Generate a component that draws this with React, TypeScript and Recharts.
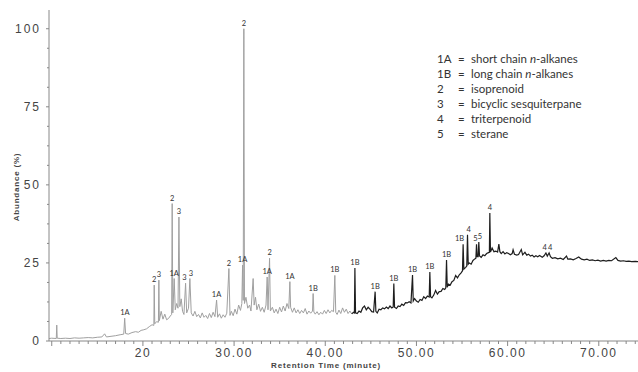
import { ComposedChart, Line, Scatter, XAxis, YAxis } from "recharts";

// retention time (min), abundance (%)
const grayTrace: [number, number][] = [
  [9.7, 0.8], [10.0, 0.9], [10.5, 0.8], [10.55, 5.1], [10.6, 0.9], [11.0, 0.8], [11.5, 0.9],
  [12.0, 0.8], [12.5, 1.0], [13.0, 0.9], [13.5, 1.0], [14.0, 1.1], [14.5, 1.0], [15.0, 1.2],
  [15.5, 1.3], [15.8, 2.3], [16.0, 1.3], [16.5, 1.5], [17.0, 1.7], [17.5, 2.0], [17.9, 2.2],
  [18.0, 7.3], [18.1, 2.4], [18.4, 2.2], [18.8, 2.7], [19.2, 3.0], [19.5, 2.8], [19.8, 3.4],
  [20.1, 3.6], [20.4, 3.9], [20.7, 4.6], [21.0, 5.2], [21.2, 5.0], [21.24, 17.9], [21.3, 5.5],
  [21.5, 6.2], [21.7, 6.0], [21.75, 19.5], [21.8, 6.5], [22.0, 9.5], [22.2, 7.0], [22.4, 8.6],
  [22.6, 6.8], [22.8, 7.2], [23.0, 8.0], [23.15, 8.5], [23.21, 44], [23.28, 9.0], [23.43, 20],
  [23.55, 10], [23.7, 12], [23.85, 10.5], [23.95, 39.7], [24.05, 11], [24.2, 13.5], [24.35, 9.5],
  [24.5, 8.5], [24.68, 18.5], [24.8, 9], [25.0, 10.5], [25.15, 20], [25.3, 9], [25.5, 8],
  [25.7, 9.5], [25.9, 7.8], [26.1, 8.5], [26.3, 7.4], [26.5, 9.0], [26.7, 7.6], [26.9, 8.2],
  [27.1, 7.2], [27.3, 8.8], [27.5, 7.5], [27.7, 9.2], [27.9, 7.8], [28.08, 13.1], [28.2, 7.6],
  [28.4, 8.7], [28.6, 7.3], [28.8, 8.4], [29.0, 7.6], [29.2, 8.9], [29.43, 23.2], [29.55, 8.2],
  [29.7, 9.5], [29.9, 8.1], [30.1, 10.2], [30.3, 8.6], [30.5, 11.5], [30.7, 9.8], [30.85, 12],
  [30.93, 24.3], [31.0, 13], [31.07, 100], [31.14, 12], [31.3, 14], [31.5, 10.5], [31.7, 11.5],
  [31.85, 9.6], [32.09, 20], [32.2, 11.5], [32.35, 14], [32.5, 10], [32.7, 11.8], [32.9, 9.5],
  [33.1, 10.8], [33.3, 9.2], [33.5, 11.5], [33.63, 20.5], [33.72, 10], [33.89, 26.5], [33.98, 9.6],
  [34.2, 10.8], [34.4, 9.0], [34.6, 10.2], [34.8, 8.8], [35.0, 10.8], [35.2, 9.3], [35.4, 11.2],
  [35.6, 9.6], [35.8, 12.0], [36.0, 10.4], [36.12, 19], [36.2, 10.8], [36.4, 9.2], [36.6, 10.6],
  [36.8, 9.0], [37.0, 10.0], [37.2, 8.8], [37.4, 9.8], [37.6, 9.0], [37.8, 10.4], [38.0, 8.6],
  [38.2, 9.6], [38.4, 8.9], [38.6, 9.6], [38.67, 15.2], [38.75, 9.3], [38.9, 8.6], [39.1, 9.4],
  [39.3, 8.4], [39.5, 9.2], [39.7, 8.6], [39.9, 9.8], [40.1, 8.8], [40.3, 10.0], [40.5, 9.0],
  [40.7, 9.8], [40.9, 9.4], [41.05, 21], [41.15, 9.2], [41.3, 8.5], [41.5, 9.9], [41.7, 8.8],
  [41.9, 10.6], [42.1, 9.2], [42.3, 10.2], [42.5, 8.8], [42.7, 9.6], [42.9, 8.7],
];

const blackTrace: [number, number][] = [
  [42.9, 8.7], [43.1, 9.2], [43.2, 9.0], [43.25, 23.4], [43.32, 9.0], [43.5, 8.8], [43.7, 9.6],
  [43.9, 9.2], [44.1, 10.6], [44.3, 11.2], [44.5, 10.0], [44.7, 10.8], [44.9, 10.2], [45.1, 9.4],
  [45.3, 9.3], [45.47, 15.8], [45.55, 9.5], [45.7, 9.0], [45.9, 10.2], [46.1, 10.0], [46.3, 10.6],
  [46.5, 10.3], [46.7, 10.9], [46.9, 10.4], [47.1, 11.2], [47.3, 10.6], [47.45, 10.9], [47.52, 18.4],
  [47.6, 10.8], [47.8, 10.4], [48.0, 11.2], [48.2, 11.0], [48.4, 11.8], [48.6, 11.4], [48.8, 12.3],
  [49.0, 12.2], [49.2, 12.6], [49.4, 12.2], [49.57, 21.1], [49.65, 12.8], [49.8, 13.6], [50.0, 12.8],
  [50.2, 12.4], [50.4, 13.3], [50.6, 13.0], [50.8, 14.2], [51.0, 13.6], [51.2, 14.4], [51.4, 14.1],
  [51.47, 22.1], [51.55, 14.2], [51.7, 13.8], [51.9, 14.7], [52.1, 16.2], [52.3, 15.0], [52.5, 15.8],
  [52.7, 15.9], [52.9, 16.8], [53.1, 16.5], [53.22, 17.0], [53.3, 25.9], [53.38, 17.2], [53.5, 18.2],
  [53.7, 17.9], [53.9, 19.0], [54.1, 19.4], [54.3, 21.0], [54.5, 20.2], [54.7, 21.2], [54.9, 21.8],
  [55.05, 22.5], [55.12, 31], [55.2, 23.0], [55.4, 23.6], [55.52, 24], [55.6, 34], [55.68, 24.6],
  [55.8, 25.0], [56.0, 24.6], [56.2, 25.8], [56.4, 26.3], [56.52, 26.5], [56.59, 31], [56.66, 27],
  [56.77, 27], [56.84, 31.7], [56.92, 27.2], [57.1, 26.8], [57.3, 27.6], [57.5, 27.3], [57.7, 28.0],
  [57.9, 28.3], [58.0, 28.4], [58.05, 41], [58.12, 28.5], [58.3, 29.8], [58.5, 28.6], [58.7, 28.8],
  [58.9, 28.5], [59.04, 31], [59.15, 28.6], [59.3, 28.0], [59.5, 28.6], [59.7, 27.9], [59.9, 28.3],
  [60.1, 28.0], [60.3, 27.6], [60.5, 28.0], [60.6, 29.2], [60.75, 27.8], [61.0, 27.5], [61.2, 27.7],
  [61.5, 29.3], [61.65, 27.6], [61.9, 28.4], [62.1, 27.5], [62.3, 27.8], [62.5, 27.2], [62.7, 27.5],
  [62.9, 26.9], [63.1, 27.3], [63.3, 27.0], [63.5, 27.4], [63.8, 26.8], [64.0, 27.3], [64.2, 28.2],
  [64.35, 27.2], [64.55, 28.2], [64.7, 27.0], [64.9, 26.5], [65.2, 26.7], [65.5, 26.3], [65.8, 26.5],
  [66.1, 26.1], [66.46, 27.2], [66.6, 26.2], [66.9, 26.3], [67.2, 26.0], [67.5, 26.4], [67.8, 26.9],
  [68.1, 26.2], [68.4, 26.0], [68.7, 26.2], [69.0, 25.8], [69.3, 26.0], [69.6, 25.7], [69.9, 25.9],
  [70.2, 25.6], [70.5, 25.8], [70.8, 25.6], [71.1, 25.8], [71.4, 25.7], [71.87, 26.7], [72.1, 25.8],
  [72.4, 25.6], [72.7, 25.7], [73.0, 25.5], [73.3, 25.6], [73.6, 25.4], [74.0, 25.5], [74.3, 25.4],
];

const peakLabels: [number, number, string][] = [
  [18.03, 7.3, "1A"], [21.24, 17.9, "2"], [21.75, 19.5, "3"], [23.21, 44, "2"], [23.43, 20, "1A"],
  [23.95, 39.7, "3"], [24.68, 18.5, "3"], [25.15, 20, "3"], [28.08, 13.1, "1A"], [29.43, 23.2, "2"],
  [30.93, 24.3, "1A"], [31.07, 100, "2"], [33.63, 20.5, "1A"], [33.89, 26.5, "2"], [36.12, 19, "1A"],
  [38.67, 15.2, "1B"], [41.05, 21, "1B"], [43.25, 23.4, "1B"], [45.47, 15.8, "1B"], [47.52, 18.4, "1B"],
  [49.57, 21.1, "1B"], [51.47, 22.1, "1B"], [53.3, 25.9, "1B"], [55.12, 31, "1B"], [55.6, 34, "4"],
  [56.59, 31, "5"], [56.84, 31.7, "5"], [58.05, 41, "4"], [64.2, 28.2, "4"], [64.55, 28.2, "4"],
];

const legendRows: [string, string][] = [
  ["1A", "short chain n-alkanes"],
  ["1B", "long chain n-alkanes"],
  ["2", "isoprenoid"],
  ["3", "bicyclic sesquiterpane"],
  ["4", "triterpenoid"],
  ["5", "sterane"],
];

const xTicks: number[] = [];
for (let m = 10; m <= 74; m++) xTicks.push(m);
const yTicks = [0, 6.25, 12.5, 18.75, 25, 31.25, 37.5, 43.75, 50, 56.25, 62.5, 68.75, 75, 81.25, 87.5, 93.75, 100];

const gray = grayTrace.map(([t, v]) => ({ t, v }));
const black = blackTrace.map(([t, v]) => ({ t, v }));

// labels of neighbouring peaks at about the same height are pushed apart
const labels = peakLabels.map(([t, v, label], i) => {
  const prev = peakLabels[i - 1];
  const next = peakLabels[i + 1];
  const close = (p?: [number, number, string]) => !!p && Math.abs(p[0] - t) < 0.5 && Math.abs(p[1] - v) < 5;
  const anchor = close(next) ? "end" : close(prev) ? "start" : "middle";
  return { t, v, label, anchor };
});

const tickFont = "'Liberation Sans', Arial, sans-serif";
const legendFont = "Lato, 'Noto Sans', sans-serif";

const XTick = (props: any) => {
  const { x, y, payload } = props;
  const v = payload.value;
  const major = v % 10 === 0;
  return (
    <g>
      <line x1={x} x2={x} y1={y} y2={y + (major ? 5 : 3)} stroke="#888" />
      {major && v >= 20 && (
        <text x={x} y={y + 16} textAnchor="middle" fontSize={12} fill="#444"
          fontFamily={tickFont} letterSpacing={1.5}>
          {v === 20 ? "20" : v.toFixed(2)}
        </text>
      )}
    </g>
  );
};

const YTick = (props: any) => {
  const { x, y, payload } = props;
  const v = payload.value;
  const major = v % 25 === 0;
  return (
    <g>
      <line x1={x - (major ? 3 : 2)} x2={x} y1={y} y2={y} stroke="#888" />
      {major && (
        <text x={x - 8} y={y + 4} textAnchor="end" fontSize={12} fill="#444"
          fontFamily={tickFont} letterSpacing={2}>
          {v}
        </text>
      )}
    </g>
  );
};

const PeakLabel = (props: any) => {
  const { cx, cy, payload } = props;
  const dx = payload.anchor === "end" ? 1 : payload.anchor === "start" ? -1 : 0;
  return (
    <text x={cx + dx} y={cy - 3} textAnchor={payload.anchor} fontSize={7.5} fill="#333" fontFamily={legendFont}>
      {payload.label}
    </text>
  );
};

export default function App() {
  return (
    <div style={{ position: "absolute", left: 0, top: 0, width: 638, height: 372, background: "#fff" }}>
      <ComposedChart width={638} height={372} margin={{ top: 10, right: 0, bottom: 1, left: 0 }}>
        <XAxis type="number" dataKey="t" domain={[9.7, 74.3]} ticks={xTicks} interval={0}
          allowDataOverflow height={30} tickSize={0} tickMargin={0} tickLine={false}
          axisLine={{ stroke: "#888" }} tick={<XTick />} />
        <YAxis type="number" dataKey="v" domain={[0, 106]} ticks={yTicks} interval={0}
          allowDataOverflow width={49} tickSize={0} tickMargin={0} tickLine={false}
          axisLine={{ stroke: "#888" }} tick={<YTick />} />
        <Line data={gray} dataKey="v" type="linear" stroke="#a0a0a0" strokeWidth={1}
          dot={false} isAnimationActive={false} />
        <Line data={black} dataKey="v" type="linear" stroke="#1e1e1e" strokeWidth={1.2}
          dot={false} isAnimationActive={false} />
        <Scatter data={labels} dataKey="v" shape={<PeakLabel />} isAnimationActive={false} />
      </ComposedChart>
      <div style={{ position: "absolute", left: 264, top: 361, width: 124, textAlign: "center",
        fontFamily: tickFont, fontSize: 8, fontWeight: "bold", letterSpacing: 0.8, color: "#444" }}>
        Retention Time (minute)
      </div>
      <div style={{ position: "absolute", left: 17, top: 187, width: 0, height: 0 }}>
        <div style={{ position: "absolute", left: -50, top: -6, width: 100, textAlign: "center",
          transform: "rotate(-90deg)", fontFamily: tickFont, fontSize: 8, fontWeight: "bold",
          letterSpacing: 0.8, color: "#444", lineHeight: "12px" }}>
          Abundance (%)
        </div>
      </div>
      <div style={{ position: "absolute", left: 437, top: 51, fontFamily: legendFont, fontSize: 11.5,
        color: "#333", lineHeight: "15.1px" }}>
        {legendRows.map(([k, text]) => {
          const parts = text.split("n-");
          return (
            <div key={k} style={{ display: "flex" }}>
              <span style={{ width: 21 }}>{k}</span>
              <span style={{ width: 13 }}>=</span>
              <span>
                {parts.length > 1 ? (<>{parts[0]}<i>n</i>-{parts[1]}</>) : text}
              </span>
            </div>
          );
        })}
      </div>
    </div>
  );
}
